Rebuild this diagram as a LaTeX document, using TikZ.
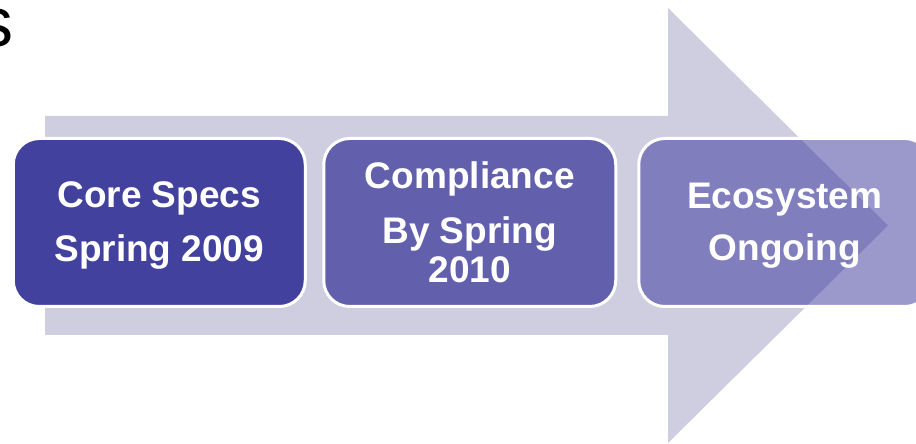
\documentclass[tikz,border=0pt]{standalone}
\usepackage{fontspec}
\setmainfont{Liberation Sans}
\usepackage{tikz}
\usetikzlibrary{positioning}
\usepackage{xcolor}

\definecolor{arrowgray}{RGB}{206,206,224}
\definecolor{phaseone}{RGB}{66,65,157}
\definecolor{phasetwo}{RGB}{98,96,172}
\definecolor{phasethree}{RGB}{45,40,149}
\newcommand{\topstrut}{\rule{0pt}{32pt}}

\begin{document}
\begin{tikzpicture}[
    x=1pt, y=1pt,
    phase/.style={rectangle, draw=white, line width=3pt, rounded corners=26pt,
        minimum width=292pt, minimum height=168pt, inner sep=0pt,
        align=center, text=white, font=\fontsize{37}{54}\selectfont\bfseries},
    node distance=15.5pt
]
    \clip (0,0) rectangle (916,444);

    % big arrow in the back
    \fill[arrowgray] (45,328) -- (668,328) -- (668,436) -- (888,218.5)
        -- (668,1) -- (668,109) -- (45,109) -- cycle;

    % title remnant
    \node[anchor=base east, inner sep=0pt, font=\fontsize{70}{70}\selectfont] (title) at (14,397) {s};

    \node[phase, fill=phaseone] (core) at (159.25,221.5) {\topstrut Core Specs\\Spring 2009};
    \node[phase, fill=phasetwo, right=of core, font=\fontsize{37}{39}\selectfont\bfseries] (compl)
        {Compliance\\[16pt]By Spring\\2010};
    \node[phase, fill=phasethree, fill opacity=0.48, draw opacity=1, text opacity=1,
        right=20pt of compl, font=\fontsize{37}{52}\selectfont\bfseries] (eco)
        {\topstrut Ecosystem\\Ongoing};

\end{tikzpicture}
\end{document}
